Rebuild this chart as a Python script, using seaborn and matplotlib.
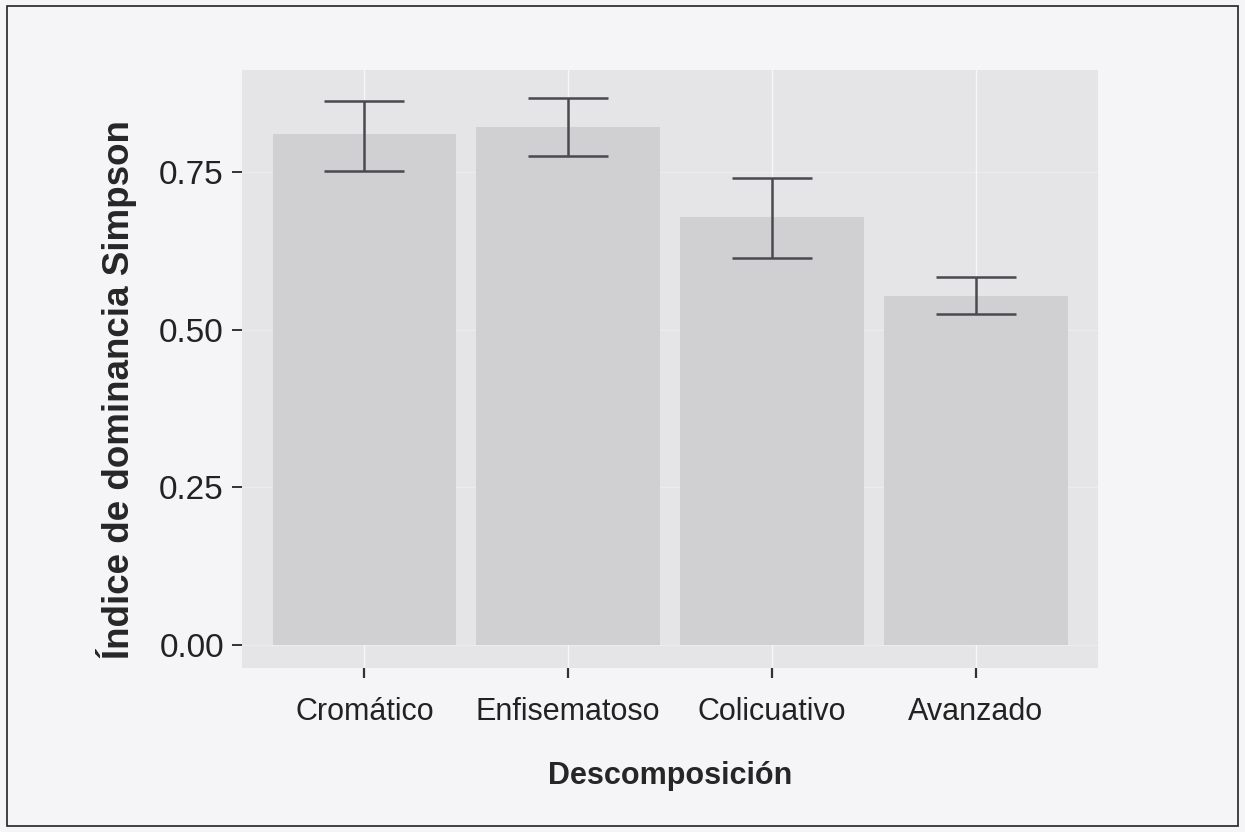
import matplotlib
matplotlib.use('Agg')
import matplotlib.pyplot as plt
import seaborn as sns
import numpy as np
from matplotlib.patches import Rectangle

categorias = ['Cromático', 'Enfisematoso', 'Colicuativo', 'Avanzado']
media = [0.810, 0.822, 0.679, 0.554]
err_bajo = [0.751, 0.775, 0.614, 0.525]
err_alto = [0.863, 0.867, 0.741, 0.584]
ticks_y = [0.00, 0.25, 0.50, 0.75]
etiquetas_y = ['0.00', '0.25', '0.50', '0.75']

sns.set_style('white')
plt.rcParams['font.family'] = ['Liberation Sans', 'DejaVu Sans']

fig = plt.figure(figsize=(12.45, 8.32), dpi=100, facecolor='#f5f5f7')
ax = fig.add_axes([0.1944, 0.197, 0.6876, 0.7188])
ax.set_facecolor('#e5e4e7')

# gridlines like ggplot, very faint
for yv in ticks_y:
    ax.axhline(yv, color='white', lw=1.0, alpha=0.3, zorder=0)
for xv in range(len(categorias)):
    ax.axvline(xv, color='white', lw=1.0, alpha=0.7, zorder=0)

sns.barplot(x=categorias, y=media, color='#d0d0d3', saturation=1, width=0.9,
            errorbar=None, linewidth=0, ax=ax, zorder=2)

x = np.arange(len(categorias))
yerr = [np.array(media) - np.array(err_bajo), np.array(err_alto) - np.array(media)]
ax.errorbar(x, media, yerr=yerr, fmt='none', ecolor='#4a4a4e', elinewidth=1.8,
            capsize=29, capthick=1.8, zorder=3)

ax.set_xlim(-0.6, 3.6)
ax.set_ylim(-0.0365, 0.9117)
ax.set_yticks(ticks_y)
ax.set_yticklabels(etiquetas_y, fontsize=24, color='#222222')
ax.tick_params(axis='x', labelsize=22, colors='#222222', length=7, width=1.6, pad=14,
               bottom=True)
ax.tick_params(axis='y', length=7, width=1.4, left=True, pad=6, color='#333333')
ax.tick_params(axis='x', color='#333333')
for s in ax.spines.values():
    s.set_visible(False)

ax.set_xlabel('Descomposición', fontsize=22, fontweight='bold', labelpad=24)
ax.set_ylabel('Índice de dominancia Simpson', fontsize=26.5, fontweight='bold')
ax.yaxis.set_label_coords(-0.123, 0.465)

fig.patches.append(Rectangle((7 / 1245, 6 / 832), 1231 / 1245, 820 / 832,
                             transform=fig.transFigure, fill=False,
                             edgecolor='#222222', lw=1.2))

fig.savefig('out.png', dpi=100, facecolor=fig.get_facecolor())
